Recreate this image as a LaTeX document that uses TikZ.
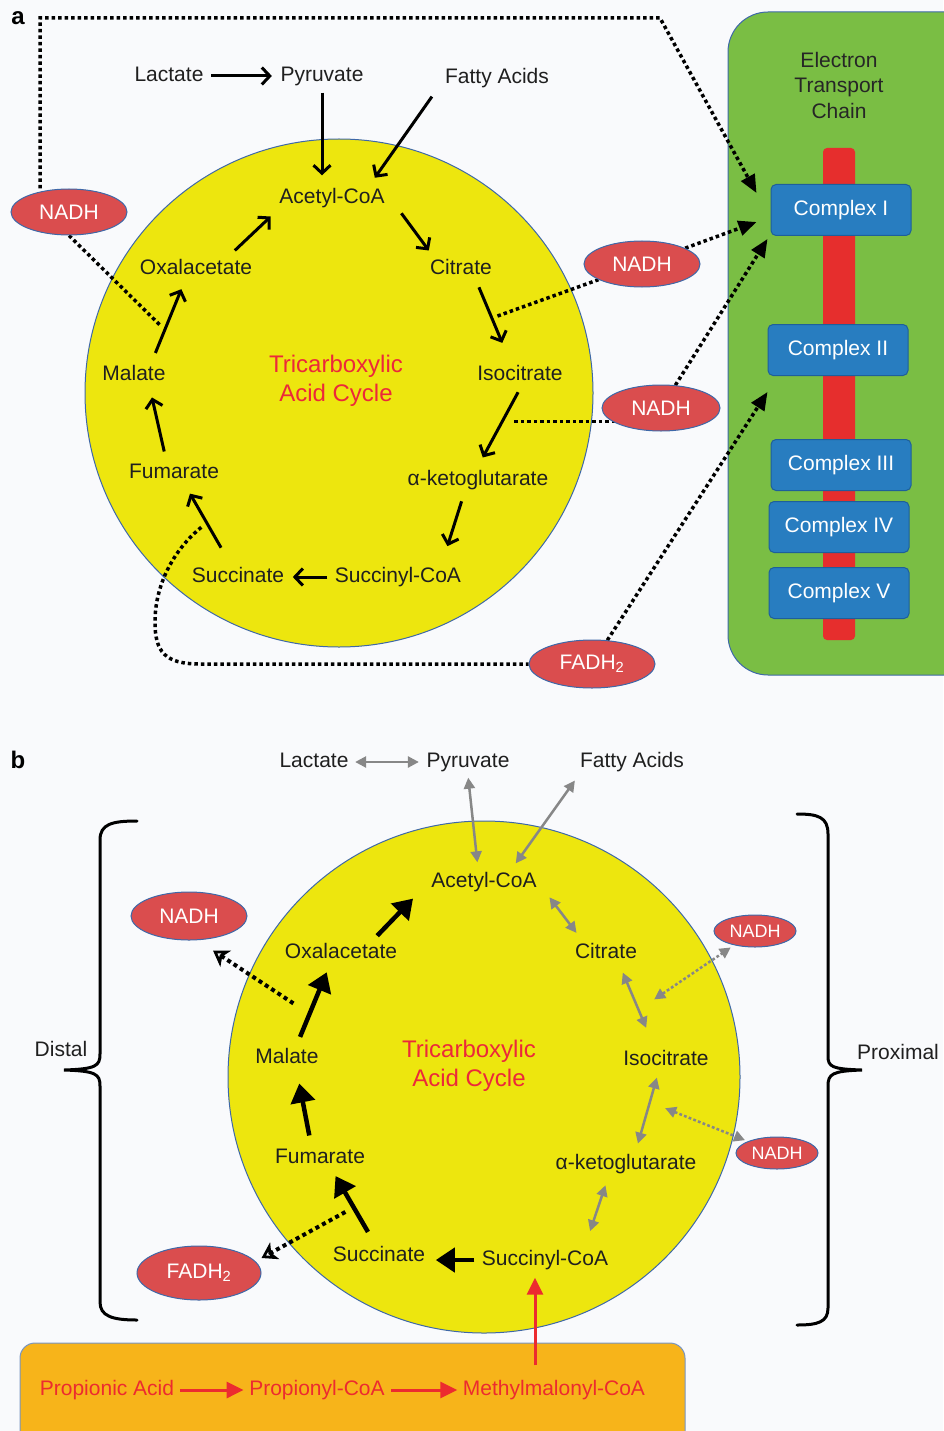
\documentclass[tikz,border=0pt]{standalone}
\usepackage{fontspec}
\setmainfont{Liberation Sans}
\usepackage{xcolor}
\usetikzlibrary{arrows.meta, positioning, shapes.geometric, calc}
\pgfdeclarelayer{bg}
\pgfdeclarelayer{wires}
\pgfsetlayers{bg,wires,main}
\definecolor{bgpaper}{RGB}{249,250,252}
\definecolor{tcayellow}{RGB}{237,230,14}
\definecolor{nadhred}{RGB}{218,77,78}
\definecolor{edgeblue}{RGB}{62,104,168}
\definecolor{etcgreen}{RGB}{122,190,68}
\definecolor{cplxblue}{RGB}{40,125,192}
\definecolor{cplxedge}{RGB}{30,95,155}
\definecolor{barred}{RGB}{230,46,45}
\definecolor{propbox}{RGB}{247,180,26}
\definecolor{tcared}{RGB}{236,40,58}
\definecolor{chainred}{RGB}{236,43,47}
\definecolor{revgray}{RGB}{135,135,135}
\tikzset{
    lbl/.style={font=\fontsize{21}{25}\selectfont, text=black!88, inner sep=3.5pt, text height=15.5pt, text depth=4.5pt},
    tcatitle/.style={align=center, text=tcared, font=\fontsize{24}{29}\selectfont},
    etctitle/.style={align=center, text=black!85, font=\fontsize{21}{25.5}\selectfont},
    panelLbl/.style={font=\fontsize{24}{28}\selectfont\bfseries, inner sep=0pt},
    carrier/.style={ellipse, draw=edgeblue, line width=1pt, fill=nadhred, text=white, inner sep=0pt, font=\fontsize{21}{25}\selectfont},
    smallCarrier/.style={carrier, font=\fontsize{18}{22}\selectfont},
    cplx/.style={rectangle, rounded corners=5pt, draw=cplxedge, line width=1pt, fill=cplxblue, text=white, minimum width=140pt, minimum height=51pt, font=\fontsize{21}{25}\selectfont},
    stepA/.style={line width=3pt, -{Straight Barb[length=8pt,width=17pt]}},
    stepB/.style={line width=4.5pt, -{Triangle[length=19pt,width=24pt]}},
    feedline/.style={line width=3.5pt, dash pattern=on 3.5pt off 3pt},
    feed/.style={feedline, -{Triangle[length=18pt,width=15pt]}},
    outB/.style={line width=4pt, dash pattern=on 4pt off 3.5pt, -{Stealth[open,length=15pt,width=19pt,inset=4pt]}},
    revB/.style={draw=revgray, line width=2.5pt, {Triangle[length=11pt,width=11pt]}-{Triangle[length=11pt,width=11pt]}},
    revdot/.style={revB, dash pattern=on 2.8pt off 2.2pt},
    chainArrow/.style={draw=chainred, line width=3pt, -{Triangle[length=17pt,width=16pt]}},
    brace/.style={line width=3pt, line cap=round}
}

\begin{document}
\begin{tikzpicture}[x=1pt, y=-1pt]
    \useasboundingbox (0,0) rectangle (943,1431);
    \begin{pgfonlayer}{bg}
        \fill[bgpaper] (0,0) rectangle (943,1431);
        \draw[edgeblue, line width=1pt, fill=tcayellow] (339,393) circle[radius=254pt];
        \draw[edgeblue, line width=1pt, fill=etcgreen, rounded corners=40pt] (728,12) rectangle (990,675);
        \fill[barred, rounded corners=4pt] (823,148) rectangle (855,640);
        \draw[edgeblue, line width=1pt, fill=tcayellow] (484,1077) circle[radius=256pt];
        \draw[edgeblue!70, line width=1pt, fill=propbox, rounded corners=15pt] (20,1343) rectangle (685,1470);
    \end{pgfonlayer}

    % --- Panel a ---
    \begin{scope}
        \node[panelLbl] (pa) at (18,18) {a};
        \node[lbl] (lac) at (169,76) {Lactate};
        \node[lbl] (pyr) at (322,76) {Pyruvate};
        \node[lbl] (fa) at (497,78) {Fatty Acids};
        \node[lbl] (acoa) at (332,198) {Acetyl-CoA};
        \node[lbl] (cit) at (461,269) {Citrate};
        \node[lbl] (iso) at (520,375) {Isocitrate};
        \node[lbl] (akg) at (478,480) {α-ketoglutarate};
        \node[lbl] (sucoa) at (398,577) {Succinyl-CoA};
        \node[lbl] (suc) at (238,577) {Succinate};
        \node[lbl] (fum) at (174,473) {Fumarate};
        \node[lbl] (mal) at (134,375) {Malate};
        \node[lbl] (oxa) at (196,269) {Oxalacetate};
        \node[tcatitle] (tca) at (336,381) {Tricarboxylic\\Acid Cycle};
        \node[carrier, minimum width=116pt, minimum height=46pt] (n1) at (69,212) {NADH};
        \node[carrier, minimum width=116pt, minimum height=46pt] (n2) at (642,264) {NADH};
        \node[carrier, minimum width=118pt, minimum height=46pt] (n3) at (661,408) {NADH};
        \node[carrier, minimum width=126pt, minimum height=48pt] (fad) at (592,664) {FADH\textsubscript{2}};
        \node[etctitle] (etc) at (839,85) {Electron\\Transport\\Chain};
        \node[cplx] (c1) at (841,210) {Complex I};
        \node[cplx] (c2) at (838,350) {Complex II};
        \node[cplx] (c3) at (841,465) {Complex III};
        \node[cplx] (c4) at (839,527) {Complex IV};
        \node[cplx] (c5) at (839,593) {Complex V};
        \coordinate (bendR) at (660,18);
        \coordinate (fbend) at (155,622);
        \coordinate (fcorner) at (200,664);

        \draw[stepA, shorten <=4pt, shorten >=5pt] (lac) -- (pyr);
        \draw[stepA, shorten <=3pt, shorten >=9pt] (pyr.south) -- (pyr.south |- acoa.north);
        \draw[stepA, shorten <=6pt, shorten >=8pt] ([xshift=-6pt]fa.south west) -- ([xshift=-18pt]acoa.north east);
        \draw[stepA, shorten <=2pt, shorten >=6pt] ([xshift=12pt]acoa.south east) -- ([xshift=6pt]cit.north west);
        \draw[stepA, shorten <=5pt, shorten >=20pt] ([xshift=16pt]cit.south) -- coordinate[pos=.45] (c2i) ([xshift=-10pt]iso.north);
        \draw[stepA, shorten <=4pt, shorten >=10pt] (iso.south) -- coordinate[pos=.42] (i2a) (akg.north);
        \draw[stepA, shorten <=8pt, shorten >=18pt] ([xshift=-14pt]akg.south) -- ([xshift=44pt]sucoa.north);
        \draw[stepA, shorten <=4pt, shorten >=5pt] (sucoa.west) -- (sucoa.west -| suc.east);
        \draw[stepA, shorten <=18pt, shorten >=8pt] ([xshift=-8pt]suc.north) -- coordinate[pos=.47] (s2f) ([xshift=12pt]fum.south);
        \draw[stepA, shorten <=8pt, shorten >=9pt] ([xshift=-8pt]fum.north) -- ([xshift=16pt]mal.south);
        \draw[stepA, shorten <=9pt, shorten >=7pt] ([xshift=18pt]mal.north) -- coordinate[pos=.4] (m2o) ([xshift=-12pt]oxa.south);
        \draw[stepA, shorten <=7pt, shorten >=7pt] ([xshift=-26pt]oxa.north east) -- (acoa.south west);

        \begin{pgfonlayer}{wires}
            \draw[feed] ([xshift=-29pt]n1.north) |- (bendR) -- ([xshift=-14pt,yshift=-9pt]c1.north west);
            \draw[feedline, shorten >=6pt] (n1.south) -- (m2o);
            \draw[feedline, shorten <=6pt] (c2i) -- (n2);
            \draw[feed] (n2) -- ([xshift=-14pt,yshift=-12pt]c1.west);
            \draw[feedline] ([xshift=12pt]i2a) -- (i2a -| n3.center);
            \draw[feed] (n3) -- ([xshift=-3pt,yshift=-3pt]c1.south west);
            \draw[feedline] ([xshift=-8pt]s2f) .. controls +(-25,20) and +(0,-40) .. (fbend)
                .. controls +(0,30) and +(-35,0) .. (fcorner) -- (fad);
            \draw[feed] (fad) -- ([yshift=-16pt]c2.south west);
        \end{pgfonlayer}
    \end{scope}

    % --- Panel b ---
    \begin{scope}
        \node[panelLbl] (pb) at (18,760) {b};
        \node[lbl] (lacB) at (314,762) {Lactate};
        \node[lbl] (pyrB) at (468,762) {Pyruvate};
        \node[lbl] (faB) at (632,762) {Fatty Acids};
        \node[lbl] (acoaB) at (484,882) {Acetyl-CoA};
        \node[lbl] (citB) at (606,953) {Citrate};
        \node[lbl] (isoB) at (666,1060) {Isocitrate};
        \node[lbl] (akgB) at (626,1164) {α-ketoglutarate};
        \node[lbl] (sucoaB) at (545,1260) {Succinyl-CoA};
        \node[lbl] (sucB) at (379,1256) {Succinate};
        \node[lbl] (fumB) at (320,1158) {Fumarate};
        \node[lbl] (malB) at (287,1058) {Malate};
        \node[lbl] (oxaB) at (341,953) {Oxalacetate};
        \node[tcatitle] (tcaB) at (469,1066) {Tricarboxylic\\Acid Cycle};
        \node[lbl] (distal) at (61,1051) {Distal};
        \node[lbl] (prox) at (898,1054) {Proximal};
        \node[carrier, minimum width=116pt, minimum height=48pt] (nB1) at (189,916) {NADH};
        \node[carrier, minimum width=124pt, minimum height=54pt] (fadB) at (199,1273) {FADH\textsubscript{2}};
        \node[smallCarrier, minimum width=82pt, minimum height=32pt] (nB2) at (755,931) {NADH};
        \node[smallCarrier, minimum width=82pt, minimum height=32pt] (nB3) at (777,1153) {NADH};
        \node[lbl, text=chainred] (propA) at (107,1390) {Propionic Acid};
        \node[lbl, text=chainred] (propC) at (317,1390) {Propionyl-CoA};
        \node[lbl, text=chainred] (mmc) at (554,1390) {Methylmalonyl-CoA};

        % reversible steps
        \draw[revB, shorten <=3pt, shorten >=4pt] (lacB) -- (pyrB);
        \draw[revB, shorten <=2pt, shorten >=6pt] (pyrB.south) -- ([xshift=-6pt]acoaB.north);
        \draw[revB, shorten <=6pt, shorten >=6pt] ([xshift=2pt]faB.south west) -- ([xshift=-28pt]acoaB.north east);
        \draw[revB, shorten <=2pt, shorten >=8pt] ([xshift=8pt]acoaB.south east) -- ([xshift=10pt]citB.north west);
        \draw[revB, shorten <=2pt, shorten >=20pt] ([xshift=16pt,yshift=-4pt]citB.south) -- coordinate[pos=.38] (c2iB) ([xshift=-12pt]isoB.north);
        \draw[revB, shorten <=4pt, shorten >=7pt] ([xshift=-8pt]isoB.south) -- coordinate[pos=.45] (i2aB) ([xshift=10pt]akgB.north);
        \draw[revB, shorten <=8pt, shorten >=16pt] ([xshift=-18pt]akgB.south) -- ([xshift=40pt]sucoaB.north);
        \draw[revdot, shorten >=4pt] ([xshift=20pt]c2iB) -- (nB2);
        \draw[revdot, shorten >=3pt] ([xshift=17pt]i2aB) -- (nB3);

        % distal steps
        \draw[stepB, shorten <=4pt, shorten >=7pt] (sucoaB.west) -- (sucoaB.west -| sucB.east);
        \draw[stepB, shorten <=12pt, shorten >=5pt] ([xshift=-5pt]sucB.north) -- coordinate[pos=.43] (s2fB) ([xshift=13pt]fumB.south);
        \draw[stepB, shorten <=9pt, shorten >=12pt] ([xshift=-9pt]fumB.north) -- ([xshift=10pt]malB.south);
        \draw[stepB, shorten <=8pt, shorten >=6pt] ([xshift=10pt]malB.north) -- coordinate[pos=.45] (m2oB) ([xshift=-12pt]oxaB.south);
        \draw[stepB, shorten <=5pt, shorten >=4pt] ([xshift=-27pt]oxaB.north east) -- ([xshift=-12pt]acoaB.south west);
        \draw[outB] ([xshift=-18pt,yshift=6pt]m2oB) -- ([xshift=24pt,yshift=-10pt]nB1.south);
        \draw[outB] ([xshift=-11pt]s2fB) -- ([yshift=15pt]fadB.east);

        % propionate entry
        \draw[chainArrow, shorten <=2pt, shorten >=2pt] (propA) -- (propC);
        \draw[chainArrow, shorten <=3pt, shorten >=2pt] (propC) -- (mmc);
        \draw[chainArrow, shorten <=11pt, shorten >=4pt] ([xshift=-19pt]mmc.north) -- ([xshift=-19pt]mmc.north |- sucoaB.south);

        % braces
        \draw[brace] (137,821) .. controls (112,821) and (100,824) .. (100,840) -- (100,1054)
            .. controls (100,1066) and (96,1069) .. (64,1070) .. controls (96,1071) and (100,1074) .. (100,1086)
            -- (100,1302) .. controls (100,1316) and (112,1320) .. (137,1320);
        \draw[brace] (797,814) .. controls (818,814) and (828,817) .. (828,834) -- (828,1056)
            .. controls (828,1067) and (832,1069) .. (862,1070) .. controls (832,1071) and (828,1074) .. (828,1086)
            -- (828,1308) .. controls (828,1322) and (818,1325) .. (797,1325);
    \end{scope}
\end{tikzpicture}
\end{document}
